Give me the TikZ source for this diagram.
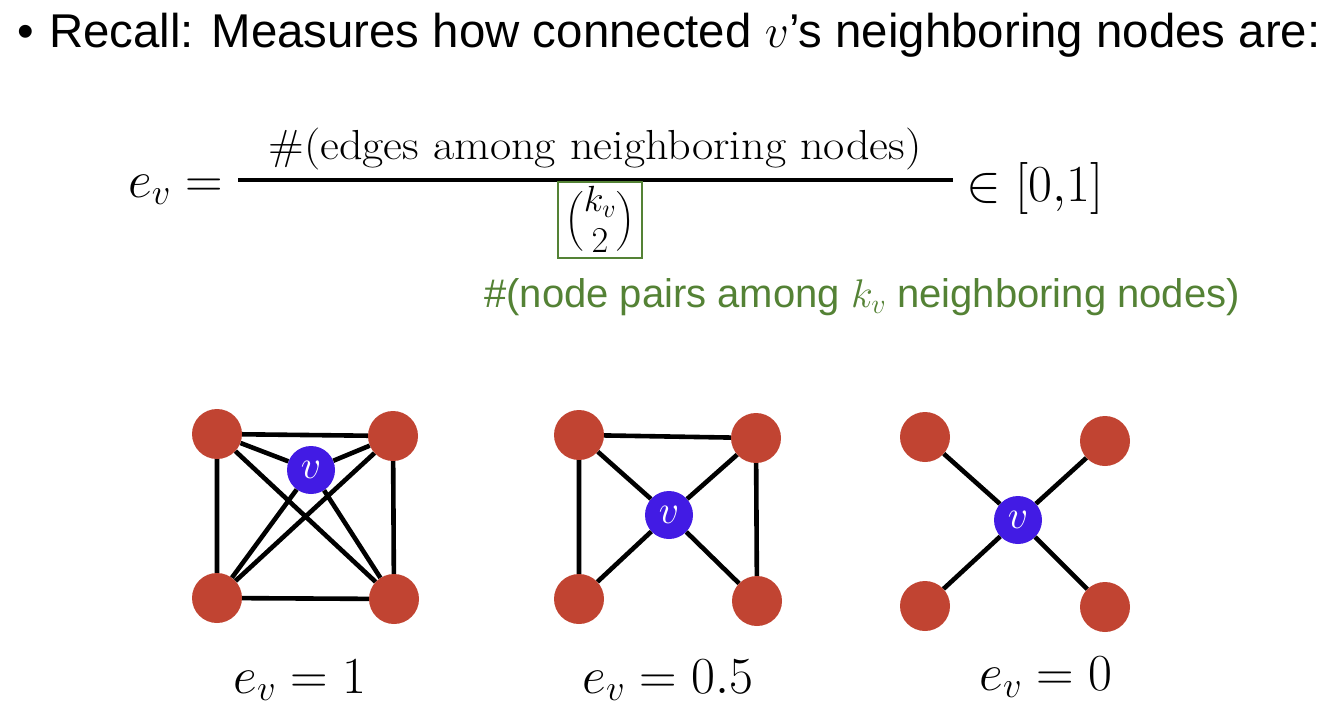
\RequirePackage{fix-cm}
\documentclass[tikz,border=0pt]{standalone}
\usepackage{amsmath}
\usepackage{graphicx}
\usepackage{fontspec}
\newfontfamily\arial{Liberation Sans}
\definecolor{nodered}{RGB}{193,68,50}
\definecolor{nodeblue}{RGB}{66,27,228}
\definecolor{pptgreen}{RGB}{84,130,53}
\begin{document}
\begin{tikzpicture}[x=1pt,y=-1pt,
  rednode/.style={circle,fill=nodered,minimum size=50pt,inner sep=0pt},
  bluenode/.style={circle,fill=nodeblue,minimum size=48pt,inner sep=0pt,text=white,font=\fontsize{40}{44}\selectfont},
  edge/.style={line width=4.6pt,black},
  lbl/.style={font=\fontsize{52}{60}\selectfont,inner sep=0pt,anchor=base},
  bigmath/.style={font=\fontsize{52}{60}\selectfont,inner sep=0pt}]
\useasboundingbox (0,0) rectangle (1336,709);
% title
\node[anchor=base west,inner sep=0pt,font=\arial\fontsize{47.4}{56}\selectfont] (bullet) at (17,48) {•};
\node[anchor=base west,inner sep=0pt,font=\arial\fontsize{47.4}{56}\selectfont] (title) at (49,48) {Recall: Measures how connected $v$’s neighboring nodes are:};
% formula
\node[bigmath,anchor=base east] (ev) at (223,197) {$e_v=$};
\node[anchor=base,inner sep=0pt] (num) at (595,159) {\scalebox{1.10}[1]{\fontsize{42}{48}\selectfont\#(edges among neighboring nodes)}};
\coordinate (barL) at (238,180);
\coordinate (barR) at (953,180);
\draw[line width=3.8pt] (barL) -- (barR);
\node[bigmath,draw=pptgreen,line width=2pt,minimum width=84pt,minimum height=76pt] (den) at (600,219.5) {$\tbinom{k_v}{2}$};
\node[bigmath,anchor=base west] (range) at (966,201) {$\in[0{,}1]$};
\node[anchor=base west,inner sep=0pt,text=pptgreen,font=\arial\fontsize{40}{48}\selectfont] (note) at (484,307) {\#(node pairs among $k_v$ neighboring nodes)};
% graph 1
\node[rednode] (a1) at (217,434) {};
\node[rednode] (a2) at (393,436) {};
\node[rednode] (a3) at (217,598) {};
\node[rednode] (a4) at (394,599) {};
\node[bluenode] (v1) at (311,470) {$v$};
\draw[edge] (a1)--(a2) (a1)--(a3) (a2)--(a4) (a3)--(a4) (a1)--(a4) (a2)--(a3)
  (v1)--(a1) (v1)--(a2) (v1)--(a3) (v1)--(a4);
% graph 2
\node[rednode] (b1) at (579,435) {};
\node[rednode] (b2) at (756,438) {};
\node[rednode] (b3) at (579,599) {};
\node[rednode] (b4) at (757,601) {};
\node[bluenode] (v2) at (669,515) {$v$};
\draw[edge] (b1)--(b2) (b1)--(b3) (b2)--(b4)
  (v2)--(b1) (v2)--(b2) (v2)--(b3) (v2)--(b4);
% graph 3
\node[rednode] (c1) at (925,437) {};
\node[rednode] (c2) at (1105,441) {};
\node[rednode] (c3) at (925,606) {};
\node[rednode] (c4) at (1105,607) {};
\node[bluenode] (v3) at (1018,520) {$v$};
\draw[edge] (v3)--(c1) (v3)--(c2) (v3)--(c3) (v3)--(c4);
% labels
\node[lbl] (l1) at (300,693) {$e_v=1$};
\node[lbl] (l2) at (668,693) {$e_v=0.5$};
\node[lbl] (l3) at (1046,690) {$e_v=0$};
\end{tikzpicture}
\end{document}
